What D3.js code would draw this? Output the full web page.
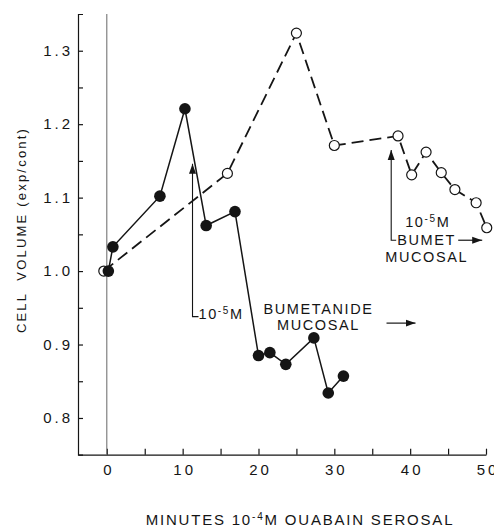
<!DOCTYPE html>
<html>
<head>
<meta charset="utf-8">
<script src="https://cdn.jsdelivr.net/npm/d3@7/dist/d3.min.js"></script>
<style>
  body { margin: 0; background: #fff; }
  svg { display: block; }
  text { font-family: "Liberation Sans", Arial, Helvetica, sans-serif; fill: #151515; }
  .tick-label { font-size: 15px; letter-spacing: 3px; }
  .note { font-size: 14.5px; letter-spacing: 1.6px; }
</style>
</head>
<body>
<div id="main"></div>
<script>
// Layout
var svgWidth = 494;
var svgHeight = 528;

// Data
var solidMinutes = [0.2, 0.8, 7.0, 10.3, 13.1, 16.9, 20.0, 21.5, 23.6, 27.3, 29.2, 31.2];
var solidVolume = [1.0, 1.033, 1.102, 1.221, 1.062, 1.081, 0.885, 0.889, 0.873, 0.909, 0.834, 0.857];

var openMinutes = [-0.4, 15.9, 25.0, 30.0, 38.4, 40.2, 42.1, 44.1, 45.9, 48.7, 50.1];
var openVolume = [1.0, 1.133, 1.324, 1.171, 1.184, 1.131, 1.162, 1.134, 1.111, 1.093, 1.059];

var xTicks = [0, 10, 20, 30, 40, 50];
var xMinorTicks = [5, 15, 25, 35, 45];
var yTicks = [0.8, 0.9, 1.0, 1.1, 1.2, 1.3];
var yMinorTicks = [0.85, 0.95, 1.05, 1.15, 1.25];

// bumetanide additions: [minutes, arrow top, arrow bottom]
var bumetFirst = [11.3, 1.146, 0.938];
var bumetSecond = [37.5, 1.165, 1.042];

var svg = d3.select('#main')
  .append('svg')
  .attr('width', svgWidth)
  .attr('height', svgHeight);

svg.append('defs').append('marker')
  .attr('id', 'head')
  .attr('viewBox', '0 0 10 10')
  .attr('refX', 10)
  .attr('refY', 5)
  .attr('markerWidth', 10)
  .attr('markerHeight', 10)
  .attr('markerUnits', 'userSpaceOnUse')
  .attr('orient', 'auto')
  .append('path')
  .attr('d', 'M0,1.5 L10,5 L0,8.5 Z')
  .attr('fill', '#151515');

var xScale = d3.scaleLinear()
  .domain([-3.8, 50])
  .range([78, 486]);

var yScale = d3.scaleLinear()
  .domain([0.75, 1.35])
  .range([454.7, 14]);

// y axis, ticks pointing inward
var yAxisG = svg.append('g')
  .attr('transform', 'translate(78,0)')
  .call(d3.axisLeft(yScale)
    .tickValues(yTicks)
    .tickFormat(d3.format('.1f'))
    .tickSizeInner(-5)
    .tickSizeOuter(-5)
    .tickPadding(5));

yAxisG.selectAll('text').attr('class', 'tick-label').attr('font-family', null).attr('font-size', null);

svg.append('g')
  .attr('transform', 'translate(78,0)')
  .call(d3.axisLeft(yScale).tickValues(yMinorTicks).tickFormat('').tickSize(-5))
  .select('.domain').remove();

// x axis
var xAxisG = svg.append('g')
  .attr('transform', 'translate(0,' + yScale(0.75) + ')')
  .call(d3.axisBottom(xScale)
    .tickValues(xTicks)
    .tickSizeInner(-6)
    .tickSizeOuter(0)
    .tickPadding(10));

xAxisG.selectAll('text').attr('class', 'tick-label').attr('font-family', null).attr('font-size', null)
  .attr('dx', '1.5px');

svg.append('g')
  .attr('transform', 'translate(0,' + yScale(0.75) + ')')
  .call(d3.axisBottom(xScale).tickValues(xMinorTicks).tickFormat('').tickSize(-6))
  .select('.domain').remove();

svg.selectAll('.domain, .tick line').attr('stroke', '#151515').attr('stroke-width', 1.2);

// ouabain added at time zero
svg.append('line')
  .attr('x1', xScale(0)).attr('x2', xScale(0))
  .attr('y1', yScale(1.35)).attr('y2', yScale(0.75))
  .attr('stroke', '#666')
  .attr('stroke-width', 1);

// axis titles
svg.append('text')
  .attr('transform', 'translate(26,230) rotate(-90)')
  .attr('text-anchor', 'middle')
  .style('font-size', '13px')
  .style('letter-spacing', '2.2px')
  .style('white-space', 'pre')
  .text('CELL  VOLUME (exp/cont)');

var xTitle = svg.append('text')
  .attr('x', 300)
  .attr('y', 525)
  .attr('text-anchor', 'middle')
  .style('font-size', '15px')
  .style('letter-spacing', '1.8px');
xTitle.append('tspan').text('MINUTES 10');
xTitle.append('tspan').attr('dy', -5).style('font-size', '10px').text('-4');
xTitle.append('tspan').attr('dy', 5).text('M OUABAIN SEROSAL');

// annotations
function superLabel(x, y) {
  var t = svg.append('text')
    .attr('class', 'note')
    .attr('x', x)
    .attr('y', y);
  t.append('tspan').text('10');
  t.append('tspan').attr('dy', -5).style('font-size', '10px').text('-5');
  t.append('tspan').attr('dy', 5).text('M');
  return t;
}

function noteArrow(x1, x2, y) {
  svg.append('line')
    .attr('x1', x1).attr('x2', x2)
    .attr('y1', y).attr('y2', y)
    .attr('stroke', '#151515')
    .attr('stroke-width', 1.2)
    .attr('marker-end', 'url(#head)');
}

// first bumetanide arrow
var ax1 = xScale(bumetFirst[0]);
var top1 = yScale(bumetFirst[1]);
var bot1 = yScale(bumetFirst[2]);

svg.append('path')
  .attr('d', 'M' + (ax1 + 6) + ',' + bot1 + 'H' + ax1 + 'V' + top1)
  .attr('fill', 'none')
  .attr('stroke', '#151515')
  .attr('stroke-width', 1.1)
  .attr('marker-end', 'url(#head)');

superLabel(ax1 + 6, bot1 + 2);

svg.append('text').attr('class', 'note')
  .attr('x', ax1 + 126).attr('y', bot1 - 3)
  .attr('text-anchor', 'middle')
  .text('BUMETANIDE');
svg.append('text').attr('class', 'note')
  .attr('x', ax1 + 126).attr('y', bot1 + 13)
  .attr('text-anchor', 'middle')
  .text('MUCOSAL');
noteArrow(ax1 + 194, ax1 + 223, bot1 + 6.5);

// second bumetanide arrow
var ax2 = xScale(bumetSecond[0]);
var top2 = yScale(bumetSecond[1]);
var bot2 = yScale(bumetSecond[2]);

svg.append('path')
  .attr('d', 'M' + (ax2 + 5) + ',' + bot2 + 'H' + ax2 + 'V' + top2)
  .attr('fill', 'none')
  .attr('stroke', '#151515')
  .attr('stroke-width', 1.1)
  .attr('marker-end', 'url(#head)');

superLabel(ax2 + 14, bot2 - 13);
svg.append('text').attr('class', 'note')
  .attr('x', ax2 + 6).attr('y', bot2 + 5)
  .text('BUMET');
noteArrow(ax2 + 67, ax2 + 91, bot2);
svg.append('text').attr('class', 'note')
  .attr('x', ax2 - 6).attr('y', bot2 + 22)
  .text('MUCOSAL');

// dashed series (open circles)
var openPts = openMinutes.map(function (m, i) { return [xScale(m), yScale(openVolume[i])]; });
var solidPts = solidMinutes.map(function (m, i) { return [xScale(m), yScale(solidVolume[i])]; });

svg.append('path')
  .attr('d', d3.line()(openPts))
  .attr('fill', 'none')
  .attr('stroke', '#151515')
  .attr('stroke-width', 1.8)
  .attr('stroke-dasharray', '12,6');

// solid series (filled circles)
svg.append('path')
  .attr('d', d3.line()(solidPts))
  .attr('fill', 'none')
  .attr('stroke', '#151515')
  .attr('stroke-width', 1.5);

svg.selectAll('.open-dot')
  .data(openPts)
  .enter()
  .append('circle')
  .attr('class', 'open-dot')
  .attr('cx', function (d) { return d[0]; })
  .attr('cy', function (d) { return d[1]; })
  .attr('r', 5)
  .attr('fill', '#fff')
  .attr('stroke', '#151515')
  .attr('stroke-width', 1.2);

svg.selectAll('.solid-dot')
  .data(solidPts)
  .enter()
  .append('circle')
  .attr('class', 'solid-dot')
  .attr('cx', function (d) { return d[0]; })
  .attr('cy', function (d) { return d[1]; })
  .attr('r', 5.8)
  .attr('fill', '#151515');
</script>
</body>
</html>
